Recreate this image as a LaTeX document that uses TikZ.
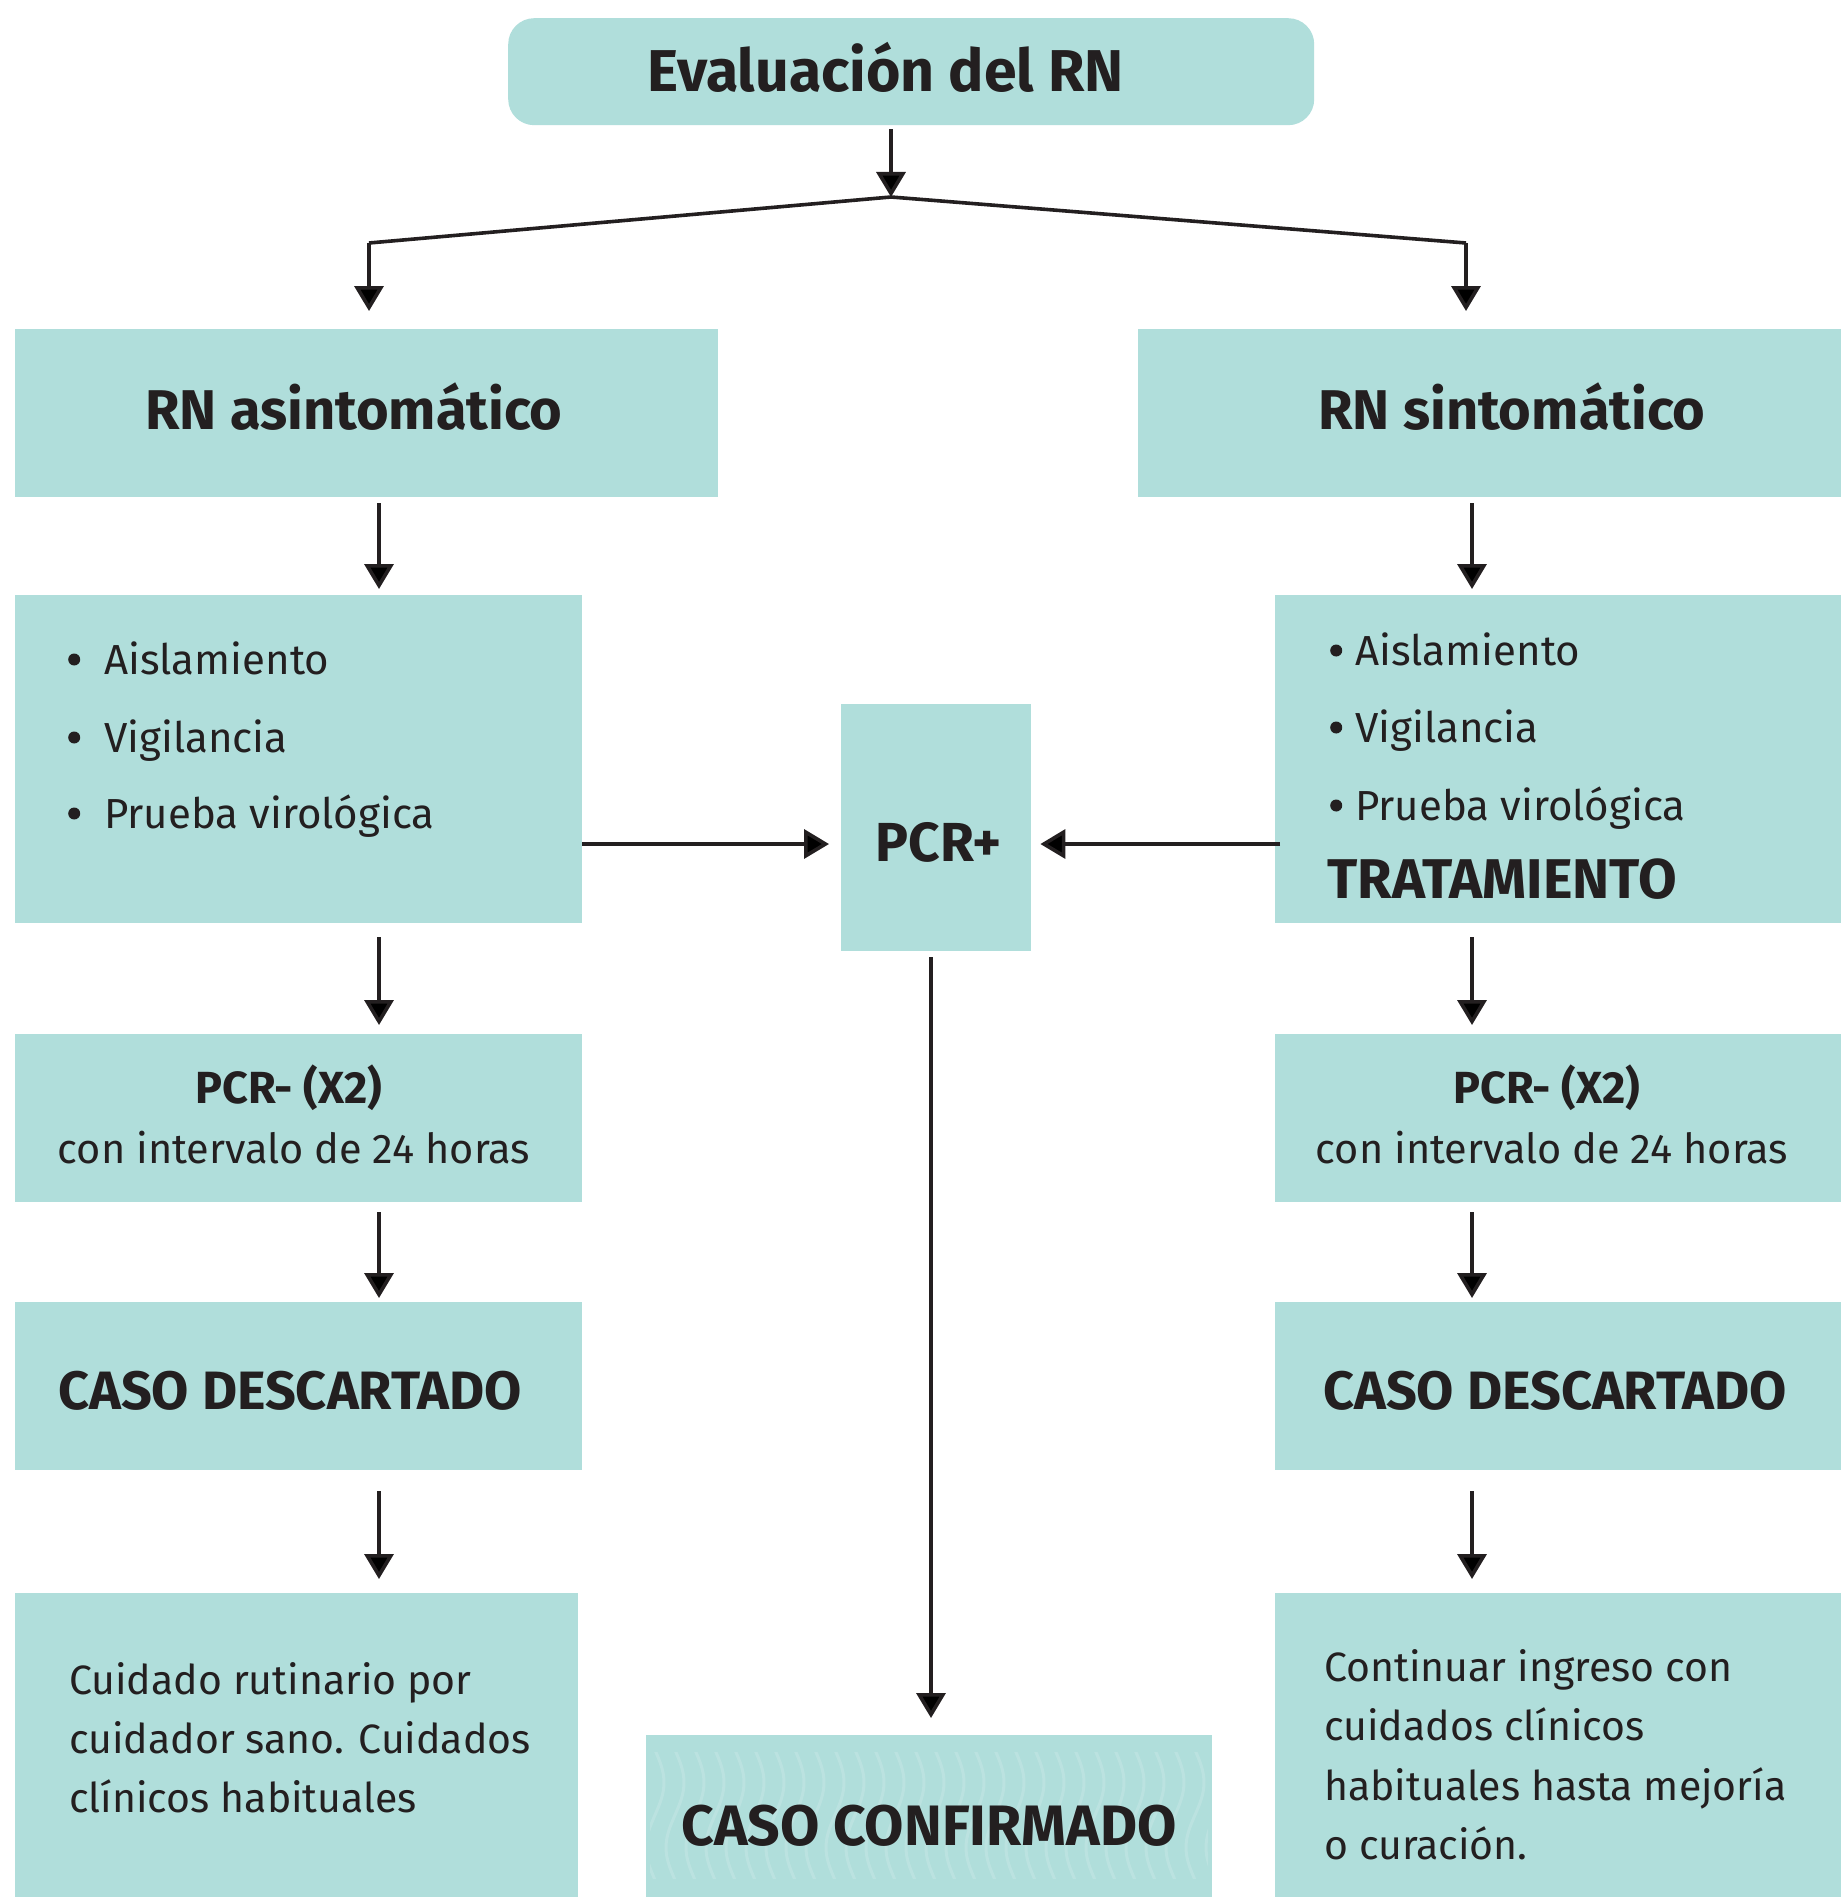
\documentclass[tikz,border=0pt]{standalone}
\usepackage{fontspec}
\setmainfont{Fira Sans}
\usetikzlibrary{arrows.meta}
\definecolor{boxfill}{HTML}{B0DEDB}
\definecolor{ink}{HTML}{231F20}
\newcommand{\mybul}{\tikz[baseline=-14.5pt]\fill[ink] (0pt,0pt) circle (6pt);}
\begin{document}
\begin{tikzpicture}[x=1pt,y=-1pt,
  box/.style={fill=boxfill, draw=none, inner sep=0pt, anchor=north west},
  txt/.style={text=ink, inner sep=0pt, anchor=base west},
  arr/.style={draw=ink, line width=3.6pt, -{Triangle[length=25pt,width=29pt]}},
  ln/.style={draw=ink, line width=3.6pt},
  big/.style={font=\fontsize{56}{60}\selectfont\bfseries},
  mid/.style={font=\fontsize{54}{58}\selectfont\bfseries},
  reg/.style={font=\fontsize{42}{50}\selectfont},
  care/.style={font=\fontsize{41}{50}\selectfont},
  wave/.style={draw=white, opacity=0.14, line width=3pt}
]
\useasboundingbox (0,0) rectangle (1841,1897);
\fill[white] (0,0) rectangle (1841,1897);

% boxes
\node[box, rounded corners=26pt, minimum width=806pt, minimum height=107pt] (top) at (508,18) {};
\node[box, minimum width=703pt, minimum height=168pt] (asin) at (15,329) {};
\node[box, minimum width=703pt, minimum height=168pt] (sint) at (1138,329) {};
\node[box, minimum width=567pt, minimum height=328pt] (listL) at (15,595) {};
\node[box, minimum width=566pt, minimum height=328pt] (listR) at (1275,595) {};
\node[box, minimum width=190pt, minimum height=247pt] (pcrp) at (841,704) {};
\node[box, minimum width=567pt, minimum height=168pt] (pcrL) at (15,1034) {};
\node[box, minimum width=566pt, minimum height=168pt] (pcrR) at (1275,1034) {};
\node[box, minimum width=567pt, minimum height=168pt] (descL) at (15,1302) {};
\node[box, minimum width=566pt, minimum height=168pt] (descR) at (1275,1302) {};
\node[box, minimum width=563pt, minimum height=304pt] (cuidL) at (15,1593) {};
\node[box, minimum width=566pt, minimum height=304pt] (cuidR) at (1275,1593) {};
\node[box, minimum width=566pt, minimum height=162pt] (conf) at (646,1735) {};

% wavy pattern inside CASO CONFIRMADO
\begin{scope}
\clip (650,1752) rectangle (1208,1878);
\foreach \k in {0,...,28}{
  \draw[wave] plot[domain=1745:1885, samples=25, smooth] ({655+20*\k+9*sin((\x-1750)*2.77)}, \x);
}
\end{scope}

% texts
\node[txt, font=\fontsize{59}{60}\selectfont\bfseries] (tTop) at (647,92) {Evaluación del RN};
\node[txt, big] (tAsin) at (145,429) {RN asintomático};
\node[txt, big] (tSint) at (1318,429) {RN sintomático};

\node[txt, reg] (l1) at (68,674) {\makebox[36pt][l]{\mybul}Aislamiento};
\node[txt, reg] (l2) at (68,752) {\makebox[36pt][l]{\mybul}Vigilancia};
\node[txt, reg] (l3) at (68,828) {\makebox[36pt][l]{\mybul}Prueba virológica};

\node[txt, reg] (r1) at (1330,665) {\makebox[25pt][l]{\mybul}Aislamiento};
\node[txt, reg] (r2) at (1330,742) {\makebox[25pt][l]{\mybul}Vigilancia};
\node[txt, reg] (r3) at (1330,820) {\makebox[25pt][l]{\mybul}Prueba virológica};
\node[txt, font=\fontsize{56}{58}\selectfont\bfseries] (r4) at (1327,898) {TRATAMIENTO};

\node[txt, anchor=base, font=\fontsize{55}{56}\selectfont\bfseries] (tPcrp) at (939,861) {PCR+};

\node[txt, anchor=base, font=\fontsize{45}{50}\selectfont\bfseries] (pL1) at (289,1103) {PCR- (X2)};
\node[txt, anchor=base, font=\fontsize{41.5}{50}\selectfont] (pL2) at (294,1163) {con intervalo de 24 horas};
\node[txt, anchor=base, font=\fontsize{45}{50}\selectfont\bfseries] (pR1) at (1547,1103) {PCR- (X2)};
\node[txt, anchor=base, font=\fontsize{41.5}{50}\selectfont] (pR2) at (1552,1163) {con intervalo de 24 horas};

\node[txt, anchor=base, mid] (dL) at (290,1409) {CASO DESCARTADO};
\node[txt, anchor=base, mid] (dR) at (1555,1409) {CASO DESCARTADO};

\node[txt, care] (cL1) at (69,1694) {Cuidado rutinario por};
\node[txt, care] (cL2) at (69,1753) {cuidador sano. Cuidados};
\node[txt, care] (cL3) at (69,1812) {clínicos habituales};

\node[txt, care] (cR1) at (1324,1681) {Continuar ingreso con};
\node[txt, care] (cR2) at (1324,1740) {cuidados clínicos};
\node[txt, care] (cR3) at (1324,1800) {habituales hasta mejoría};
\node[txt, care] (cR4) at (1324,1859) {o curación.};

\node[txt, anchor=base, font=\fontsize{57}{60}\selectfont\bfseries] (tConf) at (929,1845) {CASO CONFIRMADO};

% connectors
\coordinate (j) at (891,197);
\coordinate (bl) at (369,243);
\coordinate (br) at (1466,243);
\coordinate (colL) at (379,0);
\coordinate (colR) at (1472,0);
\coordinate (colC) at (931,0);
\coordinate (rowH) at (0,844);

\draw[arr, shorten <=4pt] (top.south -| j) -- (j);
\draw[ln, line join=round] (bl) -- (j) -- (br);
\draw[arr, shorten >=18pt] (bl) -- (bl |- asin.north);
\draw[arr, shorten >=18pt] (br) -- (br |- sint.north);

\draw[arr, shorten <=6pt, shorten >=6pt] (asin.south -| colL) -- (listL.north -| colL);
\draw[arr, shorten <=6pt, shorten >=6pt] (sint.south -| colR) -- (listR.north -| colR);

\draw[arr, shorten >=12pt] (listL.east |- rowH) -- (pcrp.west |- rowH);
\draw[arr, shorten <=-5pt, shorten >=9pt] (listR.west |- rowH) -- (pcrp.east |- rowH);

\draw[arr, shorten <=14pt, shorten >=9pt] (listL.south -| colL) -- (pcrL.north -| colL);
\draw[arr, shorten <=14pt, shorten >=9pt] (listR.south -| colR) -- (pcrR.north -| colR);
\draw[arr, shorten <=10pt, shorten >=4pt] (pcrL.south -| colL) -- (descL.north -| colL);
\draw[arr, shorten <=10pt, shorten >=4pt] (pcrR.south -| colR) -- (descR.north -| colR);
\draw[arr, shorten <=21pt, shorten >=14pt] (descL.south -| colL) -- (cuidL.north -| colL);
\draw[arr, shorten <=21pt, shorten >=14pt] (descR.south -| colR) -- (cuidR.north -| colR);

\draw[arr, shorten <=6pt, shorten >=17pt] (pcrp.south -| colC) -- (conf.north -| colC);
\end{tikzpicture}
\end{document}
